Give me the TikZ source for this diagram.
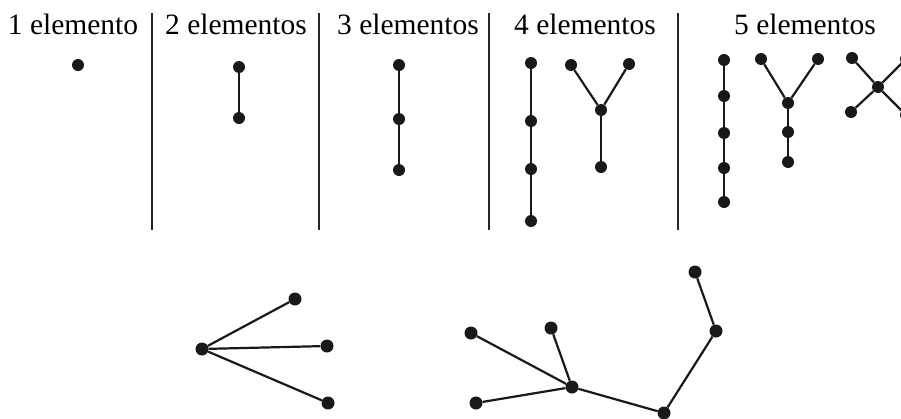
\documentclass[tikz,border=0pt]{standalone}
\usepackage{fontspec}
\setmainfont{Liberation Serif}
\begin{document}
\begin{tikzpicture}[x=1pt,y=-1pt,
  dot/.style={circle,fill=black!90,inner sep=0pt,minimum size=12pt},
  bigdot/.style={circle,fill=black!90,inner sep=0pt,minimum size=13pt},
  edge/.style={line width=2.2pt,black!90},
  divider/.style={line width=1.6pt,black!85},
  title/.style={anchor=base,inner sep=0pt,font=\fontsize{29.5}{32}\selectfont}]
\useasboundingbox (0,0) rectangle (901,418);

% column titles
\node[title] (t1) at (73,34) {1 elemento};
\node[title] (t2) at (236,34) {2 elementos};
\node[title] (t3) at (408,34) {3 elementos};
\node[title] (t4) at (585,34) {4 elementos};
\node[title] (t5) at (805,34) {5 elementos};

% vertical dividers
\coordinate (d1a) at (152,13); \coordinate (d1b) at (152,230);
\coordinate (d2a) at (319,13); \coordinate (d2b) at (319,230);
\coordinate (d3a) at (489,13); \coordinate (d3b) at (489,230);
\coordinate (d4a) at (678,13); \coordinate (d4b) at (678,230);
\draw[divider] (d1a) -- (d1b);
\draw[divider] (d2a) -- (d2b);
\draw[divider] (d3a) -- (d3b);
\draw[divider] (d4a) -- (d4b);

% one element
\node[dot] (a1) at (78,65) {};

% two elements
\node[dot] (b1) at (239,67) {};
\node[dot] (b2) at (239,118) {};
\draw[edge] (b1) -- (b2);

% three elements
\node[dot] (c1) at (399,65) {};
\node[dot] (c2) at (399,119) {};
\node[dot] (c3) at (399,170) {};
\draw[edge] (c1) -- (c2) -- (c3);

% four elements: path
\node[dot] (p1) at (531,63) {};
\node[dot] (p2) at (531,121) {};
\node[dot] (p3) at (531,169) {};
\node[dot] (p4) at (531,221) {};
\draw[edge] (p1) -- (p2) -- (p3) -- (p4);

% four elements: Y
\node[dot] (y1) at (571,65) {};
\node[dot] (y2) at (629,64) {};
\node[dot] (y3) at (601,110) {};
\node[dot] (y4) at (601,167) {};
\draw[edge] (y1) -- (y3) -- (y2);
\draw[edge] (y3) -- (y4);

% five elements: path
\node[dot] (q1) at (724,60) {};
\node[dot] (q2) at (724,96) {};
\node[dot] (q3) at (724,133) {};
\node[dot] (q4) at (724,168) {};
\node[dot] (q5) at (724,202) {};
\draw[edge] (q1) -- (q2) -- (q3) -- (q4) -- (q5);

% five elements: Y with long stem
\node[dot] (z1) at (761,59) {};
\node[dot] (z2) at (818,59) {};
\node[dot] (z3) at (788,103) {};
\node[dot] (z4) at (788,132) {};
\node[dot] (z5) at (788,162) {};
\draw[edge] (z1) -- (z3) -- (z2);
\draw[edge] (z3) -- (z4) -- (z5);

% five elements: star
\node[dot] (x0) at (878,87) {};
\node[dot] (x1) at (852,58) {};
\node[dot] (x2) at (851,112) {};
\node[dot] (x3) at (906,59) {};
\node[dot] (x4) at (906,115) {};
\draw[edge] (x1) -- (x0) -- (x4);
\draw[edge] (x2) -- (x0) -- (x3);

% lower left: three-leaf star
\node[bigdot] (s0) at (202,349) {};
\node[bigdot] (s1) at (295,299) {};
\node[bigdot] (s2) at (327,346) {};
\node[bigdot] (s3) at (328,403) {};
\draw[edge] (s0) -- (s1);
\draw[edge] (s0) -- (s2);
\draw[edge] (s0) -- (s3);

% lower right: tree
\node[bigdot] (r1) at (471,333) {};
\node[bigdot] (r2) at (551,328) {};
\node[bigdot] (r0) at (572,387) {};
\node[bigdot] (r3) at (476,403) {};
\node[bigdot] (r4) at (664,413) {};
\node[bigdot] (r5) at (716,331) {};
\node[bigdot] (r6) at (695,272) {};
\draw[edge] (r1) -- (r0);
\draw[edge] (r2) -- (r0);
\draw[edge] (r3) -- (r0);
\draw[edge] (r0) -- (r4) -- (r5) -- (r6);
\end{tikzpicture}
\end{document}
